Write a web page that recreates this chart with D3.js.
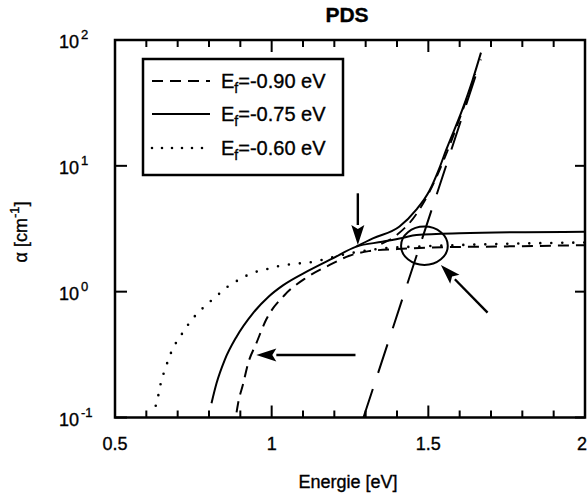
<!DOCTYPE html>
<html>
<head>
<meta charset="utf-8">
<script src="https://cdn.jsdelivr.net/npm/d3@7"></script>
<style>
  html, body { margin: 0; padding: 0; background: #fff; }
  svg { display: block; }
  text { font-family: "Liberation Sans", Arial, Helvetica, sans-serif; fill: #000; stroke: #000; stroke-width: 0.35; }
</style>
</head>
<body>
<svg id="chart" width="587" height="495"></svg>
<script>
// Photothermal deflection spectroscopy: absorption coefficient vs. photon energy
const chartTitle = "PDS";
const xLabel = "Energie [eV]";
const xTickValues = [0.5, 1, 1.5, 2];
const xTickLabels = ["0.5", "1", "1.5", "2"];
const xMinorTicks = [0.6, 0.7, 0.8, 0.9, 1.1, 1.2, 1.3, 1.4, 1.6, 1.7, 1.8, 1.9];
const yTickValues = [0.1, 1, 10, 100];
const yTickExponents = ["-1", "0", "1", "2"];

const seriesLabels = ["-0.90 eV", "-0.75 eV", "-0.60 eV"];

// Defect absorption, Ef = -0.90 eV (dashed)
const energyDashed = [0.888, 0.893, 0.909, 0.925, 0.951, 0.983, 1.040, 1.110, 1.185, 1.248, 1.31, 1.40, 1.50, 1.75, 2.00];
const alphaDashed  = [0.110, 0.130, 0.185, 0.270, 0.389, 0.603, 0.933, 1.288, 1.63, 1.93, 2.10, 2.18, 2.24, 2.29, 2.34];

// Defect absorption, Ef = -0.75 eV (solid)
const energySolid = [0.808, 0.824, 0.850, 0.888, 0.940, 0.990, 1.036, 1.116, 1.195, 1.270, 1.353, 1.417, 1.462, 1.599, 2.00];
const alphaSolid  = [0.130, 0.187, 0.286, 0.439, 0.673, 0.912, 1.122, 1.462, 1.841, 2.28, 2.49, 2.67, 2.82, 2.91, 3.00];

// Defect absorption, Ef = -0.60 eV (dotted)
const energyDotted = [0.630, 0.639, 0.646, 0.657, 0.670, 0.684, 0.706, 0.728, 0.756, 0.794, 0.829, 0.864, 0.899, 0.938, 0.974, 1.02, 1.07, 1.121, 1.25, 1.35, 1.50, 1.75, 2.00];
const alphaDotted  = [0.124, 0.153, 0.187, 0.231, 0.286, 0.351, 0.431, 0.524, 0.644, 0.794, 0.946, 1.117, 1.256, 1.409, 1.486, 1.59, 1.66, 1.71, 2.02, 2.20, 2.30, 2.40, 2.46];

// Urbach tail (long dashes)
const energyUrbach = [1.293, 1.668];
const alphaUrbach  = [0.1, 70];

// Total absorption (defects + Urbach tail), Ef = -0.75 eV (solid)
const energySumSolid = [1.270, 1.323, 1.408, 1.461, 1.503, 1.535, 1.556, 1.609, 1.641, 1.668];
const alphaSumSolid  = [2.28, 2.65, 3.29, 4.46, 6.31, 9.55, 13.2, 28.2, 47.9, 79.4];

// Total absorption (defects + Urbach tail), Ef = -0.90 eV (dashed)
const energySumDashed = [1.35, 1.40, 1.45, 1.50, 1.55, 1.60, 1.65];
const alphaSumDashed  = [2.39, 2.83, 3.77, 5.96, 11.2, 23.7, 53.6];

// Annotations in data units: [energy, alpha]
const arrowDown  = [[1.275, 6.05], [1.275, 2.35]];
const arrowLeft  = [[1.2675, 0.314], [0.951, 0.314]];
const arrowDiag  = [[1.689, 0.681], [1.540, 1.63]];
const ringBounds = [[1.413, 1.562], [1.63, 3.29]];

const svg = d3.select("#chart");
const plotLeft = 115, plotRight = 585, plotTop = 40, plotBottom = 417.5;

const x = d3.scaleLinear().domain([0.5, 2]).range([plotLeft, plotRight]);
const y = d3.scaleLog().domain([0.1, 100]).range([plotBottom, plotTop]);

const pts = (es, as) => es.map((e, i) => [e, as[i]]);
const line = d3.line().x(d => x(d[0])).y(d => y(d[1])).curve(d3.curveMonotoneX);
const straight = d3.line().x(d => x(d[0])).y(d => y(d[1]));

const plot = svg.append("g");

// curves
plot.append("path").attr("d", line(pts(energyDotted, alphaDotted)))
  .attr("fill", "none").attr("stroke", "#000").attr("stroke-width", 2.6)
  .attr("stroke-linecap", "round").attr("stroke-dasharray", "0,11");
plot.append("path").attr("d", line(pts(energyDashed, alphaDashed)))
  .attr("fill", "none").attr("stroke", "#000").attr("stroke-width", 2)
  .attr("stroke-dasharray", "11,7");
plot.append("path").attr("d", line(pts(energySolid, alphaSolid)))
  .attr("fill", "none").attr("stroke", "#000").attr("stroke-width", 2);
plot.append("path").attr("d", line(pts(energySumSolid, alphaSumSolid)))
  .attr("fill", "none").attr("stroke", "#000").attr("stroke-width", 2);
plot.append("path").attr("d", line(pts(energySumDashed, alphaSumDashed)))
  .attr("fill", "none").attr("stroke", "#000").attr("stroke-width", 1.8)
  .attr("stroke-dasharray", "11,7");
plot.append("path").attr("d", straight(pts(energyUrbach, alphaUrbach)))
  .attr("fill", "none").attr("stroke", "#000").attr("stroke-width", 2)
  .attr("stroke-dasharray", "30,17");

// ring around the crossing region
const rx0 = x(ringBounds[0][0]), rx1 = x(ringBounds[0][1]);
const ry0 = y(ringBounds[1][1]), ry1 = y(ringBounds[1][0]);
plot.append("ellipse")
  .attr("cx", (rx0 + rx1) / 2).attr("cy", (ry0 + ry1) / 2)
  .attr("rx", (rx1 - rx0) / 2).attr("ry", (ry1 - ry0) / 2)
  .attr("fill", "none").attr("stroke", "#000").attr("stroke-width", 2);

// arrows
function arrow(a) {
  const x1 = x(a[0][0]), y1 = y(a[0][1]), x2 = x(a[1][0]), y2 = y(a[1][1]);
  const ang = Math.atan2(y2 - y1, x2 - x1);
  const len = 20, half = 6.5;
  const bx = x2 - len * Math.cos(ang), by = y2 - len * Math.sin(ang);
  plot.append("line").attr("x1", x1).attr("y1", y1).attr("x2", bx).attr("y2", by)
    .attr("stroke", "#000").attr("stroke-width", 2.4);
  const nx = -Math.sin(ang), ny = Math.cos(ang);
  const back = 4;
  const nbx = x2 - (len - back) * Math.cos(ang), nby = y2 - (len - back) * Math.sin(ang);
  plot.append("path")
    .attr("d", `M${x2},${y2} L${bx + half * nx},${by + half * ny} L${nbx},${nby} L${bx - half * nx},${by - half * ny} Z`)
    .attr("fill", "#000");
}
[arrowDown, arrowLeft, arrowDiag].forEach(arrow);

// frame
const axes = svg.append("g");
axes.append("rect").attr("x", plotLeft).attr("y", plotTop)
  .attr("width", plotRight - plotLeft).attr("height", plotBottom - plotTop)
  .attr("fill", "none").attr("stroke", "#000").attr("stroke-width", 2.5);

// ticks on all four sides, pointing inward
const tickG = axes.append("g").attr("stroke", "#000").attr("stroke-width", 2);
xTickValues.forEach(v => {
  tickG.append("line").attr("x1", x(v)).attr("x2", x(v)).attr("y1", plotBottom).attr("y2", plotBottom - 12);
  tickG.append("line").attr("x1", x(v)).attr("x2", x(v)).attr("y1", plotTop).attr("y2", plotTop + 12);
});
xMinorTicks.forEach(v => {
  tickG.append("line").attr("x1", x(v)).attr("x2", x(v)).attr("y1", plotBottom).attr("y2", plotBottom - 7);
  tickG.append("line").attr("x1", x(v)).attr("x2", x(v)).attr("y1", plotTop).attr("y2", plotTop + 7);
});
yTickValues.forEach(v => {
  tickG.append("line").attr("x1", plotLeft).attr("x2", plotLeft + 12).attr("y1", y(v)).attr("y2", y(v));
  tickG.append("line").attr("x1", plotRight).attr("x2", plotRight - 10).attr("y1", y(v)).attr("y2", y(v));
});

// tick labels
xTickValues.forEach((v, i) => {
  const last = i === xTickValues.length - 1;
  axes.append("text").attr("x", last ? 587 : x(v)).attr("y", 450)
    .attr("text-anchor", last ? "end" : "middle").attr("font-size", 18).text(xTickLabels[i]);
});
yTickValues.forEach((v, i) => {
  const t = axes.append("text").attr("x", 59).attr("y", y(v) + 8).attr("font-size", 18);
  t.append("tspan").text("10");
  t.append("tspan").attr("dy", -9).attr("dx", 2).attr("font-size", 13).text(yTickExponents[i]);
});

// axis titles
svg.append("text").attr("x", 348).attr("y", 488).attr("text-anchor", "middle")
  .attr("font-size", 18).text(xLabel);
const yl = svg.append("text").attr("transform", "translate(27,232) rotate(-90)")
  .attr("text-anchor", "middle").attr("font-size", 18);
yl.append("tspan").text("\u03b1 [cm");
yl.append("tspan").attr("dy", -8).attr("font-size", 13).text("-1");
yl.append("tspan").attr("dy", 8).text("]");

svg.append("text").attr("x", 347).attr("y", 22).attr("text-anchor", "middle")
  .attr("font-size", 21).attr("font-weight", "bold").text(chartTitle);

// legend
const lg = svg.append("g");
lg.append("rect").attr("x", 143).attr("y", 59).attr("width", 200).attr("height", 116)
  .attr("fill", "#fff").attr("stroke", "#000").attr("stroke-width", 2.5);
const rows = [81, 114, 148];
const styles = [
  { dash: "11,7", w: 2, cap: "butt" },
  { dash: null, w: 2, cap: "butt" },
  { dash: "0,10", w: 2.6, cap: "round" }
];
seriesLabels.forEach((lab, i) => {
  const l = lg.append("line").attr("x1", 152).attr("x2", 210).attr("y1", rows[i]).attr("y2", rows[i])
    .attr("stroke", "#000").attr("stroke-width", styles[i].w).attr("stroke-linecap", styles[i].cap);
  if (styles[i].dash) l.attr("stroke-dasharray", styles[i].dash);
  const t = lg.append("text").attr("x", 221).attr("y", rows[i] + 7).attr("font-size", 20);
  t.append("tspan").text("E");
  t.append("tspan").attr("dy", 5).attr("font-size", 14).text("f");
  t.append("tspan").attr("dy", -5).text("=" + lab);
});
</script>
</body>
</html>
